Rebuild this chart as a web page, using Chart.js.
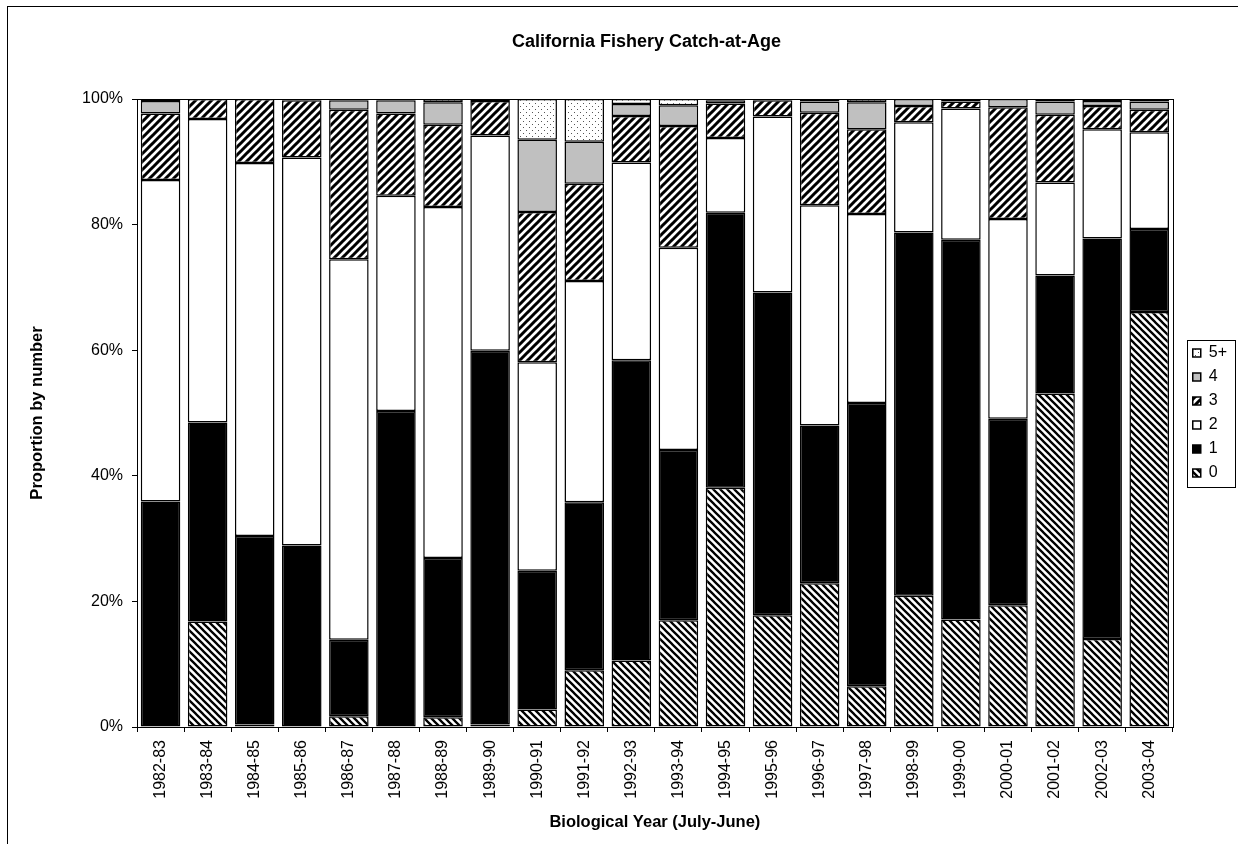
<!DOCTYPE html>
<html>
<head>
<meta charset="utf-8">
<title>California Fishery Catch-at-Age</title>
<script src="https://cdn.jsdelivr.net/npm/chart.js"></script>
<style>
  body { margin: 0; background: #fff; }
  canvas { display: block; }
</style>
</head>
<body>
<canvas id="chart" width="1238" height="844"></canvas>
<script>
const years = ["1982-83", "1983-84", "1984-85", "1985-86", "1986-87", "1987-88", "1988-89",
  "1989-90", "1990-91", "1991-92", "1992-93", "1993-94", "1994-95", "1995-96", "1996-97",
  "1997-98", "1998-99", "1999-00", "2000-01", "2001-02", "2002-03", "2003-04"];

// proportion by number (%) for each age class
const age0 = [0, 16.8, 0.4, 0, 1.7, 0, 1.55, 0.4, 2.8, 9.05, 10.6, 17.0, 38.1, 17.8, 22.9, 6.5, 20.9, 17.1, 19.4, 53.1, 14.0, 66.1];
const age1 = [35.9, 31.7, 30.0, 28.9, 12.2, 50.3, 25.35, 59.5, 22.1, 26.75, 47.8, 27.1, 43.8, 51.4, 25.1, 45.1, 57.85, 60.5, 29.7, 18.8, 63.8, 13.2];
const age2 = [51.2, 48.3, 59.4, 61.8, 60.6, 34.3, 55.9, 34.3, 33.2, 35.2, 31.5, 32.2, 11.9, 28.0, 35.1, 30.1, 17.55, 20.9, 31.8, 14.8, 17.4, 15.4];
const age3 = [10.6, 3.2, 10.2, 9.1, 23.8, 13.1, 13.1, 5.5, 23.9, 15.5, 7.4, 19.4, 5.5, 2.6, 14.7, 13.5, 2.6, 1.1, 17.8, 10.8, 3.7, 3.6];
const age4 = [2.0, 0, 0, 0.2, 1.5, 2.1, 3.6, 0.3, 11.5, 6.7, 1.9, 3.3, 0.5, 0.2, 1.8, 4.3, 1.1, 0.4, 1.3, 2.1, 0.8, 1.3];
const age5 = [0.3, 0, 0, 0, 0.2, 0.2, 0.5, 0, 6.5, 6.8, 0.8, 1.0, 0.2, 0, 0.4, 0.5, 0, 0, 0, 0.4, 0.3, 0.4];

const ageLabels = ["0", "1", "2", "3", "4", "5+"];
const yTicks = [0, 20, 40, 60, 80, 100];

const FONT = "'Liberation Sans', Arial, sans-serif";
Chart.defaults.font.family = FONT;
Chart.defaults.color = "#000";

// hatch fills like the old excel patterns
function hatch(size, width, dir) {
  const c = document.createElement("canvas");
  c.width = size;
  c.height = size;
  const g = c.getContext("2d");
  g.fillStyle = "#fff";
  g.fillRect(0, 0, size, size);
  g.strokeStyle = "#000";
  g.lineWidth = width;
  g.beginPath();
  for (let k = -1; k <= 2; k++) {
    if (dir === "back") {
      g.moveTo(-1, k * size - 1);
      g.lineTo(size + 1, k * size + size + 1);
    } else {
      g.moveTo(-1, k * size + 1);
      g.lineTo(size + 1, k * size - size - 1);
    }
  }
  g.stroke();
  return g.createPattern(c, "repeat");
}

function dots() {
  const c = document.createElement("canvas");
  c.width = 6;
  c.height = 6;
  const g = c.getContext("2d");
  g.fillStyle = "#fff";
  g.fillRect(0, 0, 6, 6);
  g.fillStyle = "#555";
  g.fillRect(1, 1, 1, 1);
  g.fillRect(4, 4, 1, 1);
  return g.createPattern(c, "repeat");
}

const fills = [hatch(7, 2.3, "back"), "#000", "#fff", hatch(8, 3, "fwd"), "#c0c0c0", dots()];
const series = [age0, age1, age2, age3, age4, age5];

const frames = {
  id: "frames",
  beforeDraw(chart) {
    const ctx = chart.ctx;
    ctx.save();
    ctx.fillStyle = "#fff";
    ctx.fillRect(0, 0, chart.width, chart.height);
    ctx.strokeStyle = "#000";
    ctx.lineWidth = 1;
    ctx.strokeRect(7.5, 6.5, 1300, 900);
    ctx.restore();
  },
  afterDatasetsDraw(chart) {
    const a = chart.chartArea;
    const ctx = chart.ctx;
    ctx.save();
    ctx.strokeStyle = "#000";
    ctx.lineWidth = 1;
    ctx.strokeRect(Math.round(a.left) + 0.5, Math.round(a.top) + 0.5, Math.round(a.right - a.left), Math.round(a.bottom - a.top));
    ctx.restore();
  },
  afterDraw(chart) {
    // box round the legend
    const lg = chart.legend;
    const hb = lg.legendHitBoxes;
    if (!hb || !hb.length) return;
    const last = hb[hb.length - 1];
    const top = Math.round(hb[0].top - 5);
    const bottom = Math.round(last.top + last.height + 6);
    const ctx = chart.ctx;
    ctx.save();
    ctx.strokeStyle = "#000";
    ctx.lineWidth = 1;
    ctx.strokeRect(Math.round(lg.left) + 2.5, top + 0.5, 48, bottom - top);
    ctx.restore();
  }
};

new Chart(document.getElementById("chart"), {
  type: "bar",
  data: {
    labels: years,
    datasets: series.map((d, i) => ({
      label: ageLabels[i],
      data: d,
      backgroundColor: fills[i],
      borderColor: "#000",
      borderWidth: 1.5,
      borderSkipped: false,
      barPercentage: 0.84,
      categoryPercentage: 1
    }))
  },
  options: {
    responsive: false,
    animation: false,
    layout: { padding: { left: 56, right: 1, top: 20, bottom: 8 } },
    plugins: {
      title: {
        display: true,
        text: "California Fishery Catch-at-Age",
        color: "#000",
        font: { size: 18, weight: "bold" },
        padding: { top: 11, bottom: 46.4 }
      },
      legend: {
        position: "right",
        fullSize: false,
        reverse: true,
        labels: { boxWidth: 8, boxHeight: 8, padding: 8, color: "#000", font: { size: 16 } }
      },
      tooltip: { enabled: false }
    },
    scales: {
      x: {
        stacked: true,
        grid: { display: true, offset: true, drawOnChartArea: false, tickLength: 5, color: "#000", tickColor: "#000" },
        border: { color: "#000", width: 1 },
        ticks: { autoSkip: false, minRotation: 90, maxRotation: 90, padding: 8, color: "#000", font: { size: 16 } },
        title: {
          display: true,
          text: "Biological Year (July-June)",
          color: "#000",
          font: { size: 16.5, weight: "bold" },
          padding: { top: 0, bottom: 4 }
        },
        afterFit: s => { s.height = 109; }
      },
      y: {
        stacked: true,
        min: 0,
        max: 100,
        afterBuildTicks: s => { s.ticks = yTicks.map(v => ({ value: v })); },
        grid: { drawOnChartArea: false, tickLength: 5, color: "#000", tickColor: "#000" },
        border: { color: "#000", width: 1 },
        ticks: { padding: 9, color: "#000", font: { size: 16 }, callback: v => v + "%" },
        title: {
          display: true,
          text: "Proportion by number",
          color: "#000",
          font: { size: 16.5, weight: "bold" },
          padding: { top: -28.9, bottom: 0 }
        },
        afterFit: s => { s.width = 81; }
      },
      // spacer between plot and legend
      y2: {
        position: "right",
        display: true,
        grid: { display: false },
        border: { display: false },
        ticks: { display: false },
        afterFit: s => { s.width = 12; }
      }
    }
  },
  plugins: [frames]
});
</script>
</body>
</html>
